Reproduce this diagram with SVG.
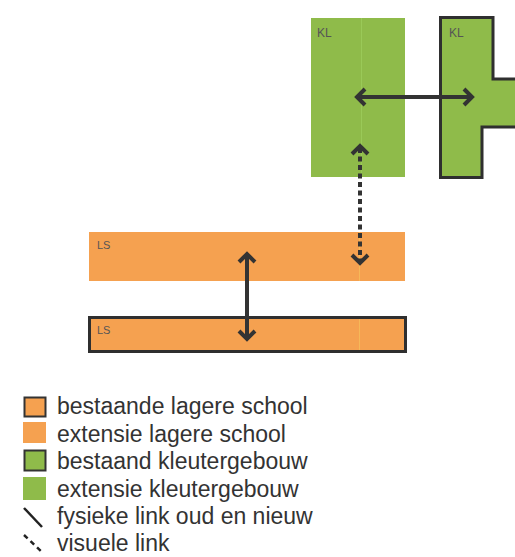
<svg xmlns="http://www.w3.org/2000/svg" width="515" height="557" viewBox="0 0 515 557">
<defs>
<style>
.or{fill:#f5a150}
.gr{fill:#8fbb4a}
.ex{stroke:#2f2f2f;stroke-width:3}
.lbl{font-family:"Liberation Sans",Arial,sans-serif;font-size:11px;fill:#555}
.kl{font-size:12px}
.leg{font-family:"Liberation Sans",Arial,sans-serif;font-size:23px;fill:#333}
.ln{stroke:#333;stroke-width:4;fill:none;stroke-linecap:butt;stroke-linejoin:miter}
.dash{stroke-dasharray:5 3.5}
.hd{stroke:#333;stroke-width:4;fill:none;stroke-linejoin:miter}
.art{stroke:#a6d866;stroke-width:1;opacity:.5}
</style>
</defs>
<rect width="515" height="557" fill="#fff"/>
<g id="kl-extensie">
<rect class="gr" x="311" y="18" width="94" height="159"/>
<line class="art" x1="361.5" y1="18" x2="361.5" y2="177"/>
<text class="lbl kl" x="317" y="37">KL</text>
</g>
<g id="kl-bestaand">
<path class="gr ex" d="M440.5,17.5 H493 V79 H520 V127 H482 V177.5 H440.5 Z"/>
<text class="lbl kl" x="449" y="37">KL</text>
</g>
<g id="ls-extensie">
<rect class="or" x="89" y="232" width="316" height="49"/>
<line x1="359.5" y1="232" x2="359.5" y2="281" stroke="#f8d060" stroke-width="1" opacity=".5"/>
<text class="lbl" x="97" y="249">LS</text>
</g>
<g id="ls-bestaand">
<rect class="or ex" x="89.5" y="317.5" width="316" height="34"/>
<line x1="359.5" y1="319" x2="359.5" y2="350" stroke="#f8d060" stroke-width="1" opacity=".5"/>
<text class="lbl" x="97" y="334">LS</text>
</g>
<g id="connectors">
<line class="ln" x1="358" y1="97" x2="471" y2="97"/>
<polyline class="hd" points="365,89 357,97 365,105"/>
<polyline class="hd" points="464,89 472,97 464,105"/>
<line class="ln dash" x1="360" y1="148" x2="360" y2="261"/>
<polyline class="hd" points="352,154 360,146 368,154"/>
<polyline class="hd" points="352,255 360,263 368,255"/>
<line class="ln" x1="247" y1="255" x2="247" y2="338"/>
<polyline class="hd" points="239,262 247,254 255,262"/>
<polyline class="hd" points="239,331 247,339 255,331"/>
</g>
<g id="legend">
<rect class="or" x="24.5" y="397.5" width="21" height="19" stroke="#333" stroke-width="2"/>
<rect class="or" x="23" y="422" width="23" height="21"/>
<rect class="gr" x="24.5" y="450.5" width="21" height="20" stroke="#333" stroke-width="2"/>
<rect class="gr" x="23" y="477" width="23" height="23"/>
<line x1="24" y1="508" x2="42" y2="527" stroke="#222" stroke-width="2.5"/>
<line x1="24" y1="535" x2="43" y2="553" stroke="#222" stroke-width="2.5" stroke-dasharray="5 4"/>
<text class="leg" x="57" y="414">bestaande lagere school</text>
<text class="leg" x="57" y="442">extensie lagere school</text>
<text class="leg" x="57" y="469">bestaand kleutergebouw</text>
<text class="leg" x="57" y="497">extensie kleutergebouw</text>
<text class="leg" x="57" y="524">fysieke link oud en nieuw</text>
<text class="leg" x="57" y="551">visuele link</text>
</g>
</svg>
